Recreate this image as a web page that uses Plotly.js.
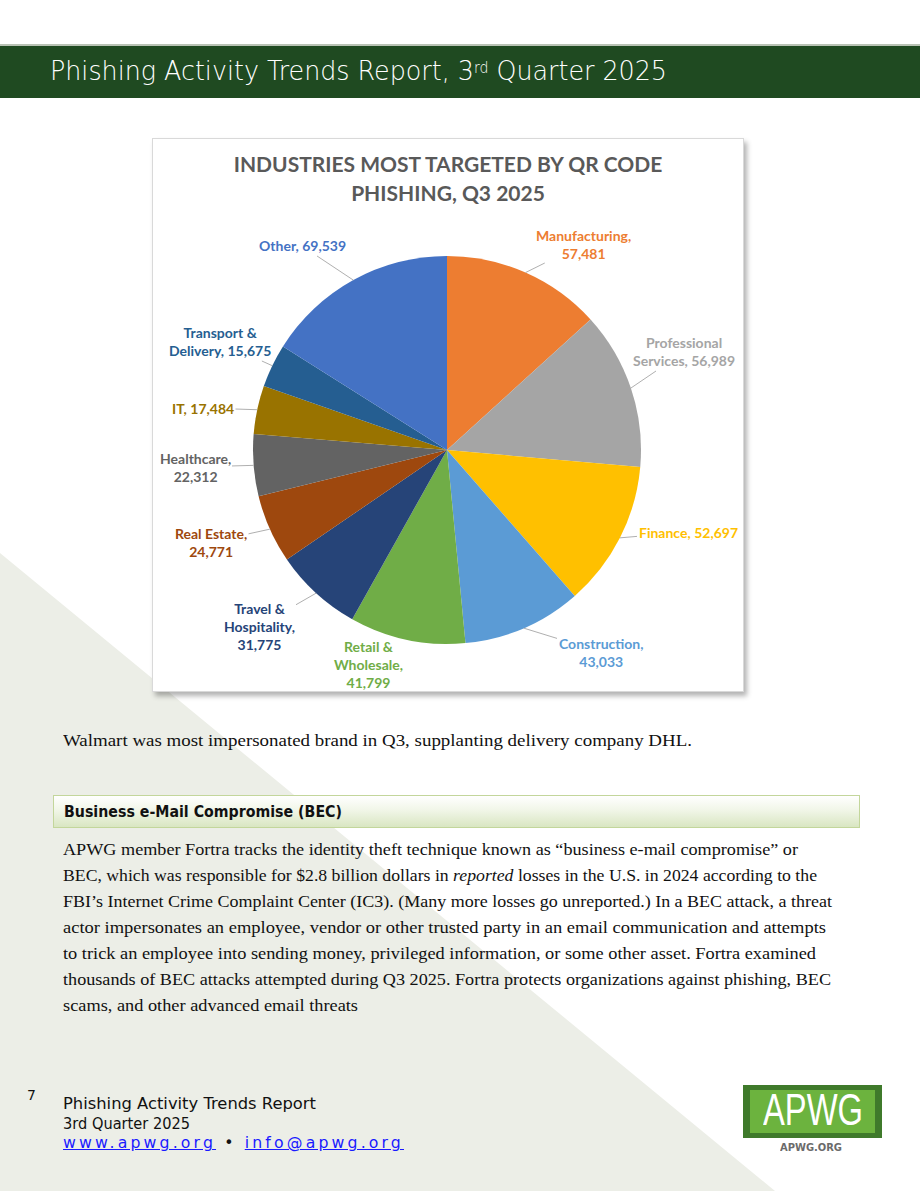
<!DOCTYPE html>
<html>
<head>
<meta charset="utf-8">
<script src="https://cdn.plot.ly/plotly-3.0.1.min.js"></script>
<style>
html,body{margin:0;padding:0;}
body{width:920px;height:1191px;position:relative;overflow:hidden;background:#ffffff;font-family:'DejaVu Sans',sans-serif;}
.abs{position:absolute;white-space:nowrap;}
.fit{display:inline-block;transform-origin:0 50%;}
#hdr{position:absolute;left:0;top:44px;width:920px;height:52px;background:#1f4a21;border-top:2px solid #b9c3b5;}
#hdrText{left:50px;top:54px;height:34px;line-height:34px;color:#ffffff;font-family:'DejaVu Sans',sans-serif;font-size:27px;font-weight:300;}
#hdrText sup{font-size:15px;vertical-align:top;position:relative;top:-3px;}
#box{position:absolute;left:152px;top:138px;width:590px;height:552px;border:1px solid #d9d9d9;background:#fff;box-shadow:3px 4px 5px rgba(0,0,0,0.30);}
#chart{position:absolute;left:0;top:0;width:590px;height:552px;}
.serif{font-family:'Liberation Serif',serif;font-size:17px;color:#111;line-height:26px;height:26px;}
#secBox{position:absolute;left:53px;top:795px;width:805px;height:31px;border:1px solid #c3d69b;background:linear-gradient(to bottom,#ffffff 0%,#f1f6e8 45%,#d9e6c2 100%);}
#secText{left:64px;top:801px;height:22px;line-height:22px;font-family:'DejaVu Sans',sans-serif;font-weight:bold;font-size:15px;color:#111;}
.foot{font-family:'DejaVu Sans',sans-serif;font-size:15px;color:#111;line-height:20px;height:20px;}
.foot a{color:#1a1aff;text-decoration:underline;}
#logoOuter{position:absolute;left:743px;top:1085px;width:139px;height:53px;background:#3f7a2b;}
#logoInner{position:absolute;left:7px;top:5px;width:125px;height:43px;background:#6cb33e;}
#logoText{position:absolute;left:763px;top:1089px;height:42px;line-height:42px;font-family:'Liberation Sans',sans-serif;font-size:44px;color:#fff;}
#logoUrl{position:absolute;left:780px;top:1141px;height:13px;line-height:13px;font-family:'DejaVu Sans',sans-serif;font-weight:bold;font-size:10px;color:#6b6b6b;}
</style>
</head>
<body>
<svg width="920" height="1191" style="position:absolute;left:0;top:0">
  <polygon points="0,553 775,1191 0,1191" fill="#eceee7"/>
</svg>

<div id="hdr"></div>
<div id="hdrText" class="abs"><span class="fit" data-w="617">Phishing Activity Trends Report, 3<sup>rd</sup> Quarter 2025</span></div>

<div id="box"><div id="chart"></div></div>

<div class="abs serif" style="left:63px;top:728px;"><span class="fit" data-w="629">Walmart was most impersonated brand in Q3, supplanting delivery company DHL.</span></div>

<div id="secBox"></div>
<div id="secText" class="abs"><span class="fit" data-w="278">Business e-Mail Compromise (BEC)</span></div>

<div class="abs serif" style="left:63px;top:837px;"><span class="fit" data-w="735">APWG member Fortra tracks the identity theft technique known as “business e-mail compromise” or</span></div>
<div class="abs serif" style="left:63px;top:863px;"><span class="fit" data-w="754">BEC, which was responsible for $2.8 billion dollars in <i>reported</i> losses in the U.S. in 2024 according to the</span></div>
<div class="abs serif" style="left:63px;top:889px;"><span class="fit" data-w="769">FBI’s Internet Crime Complaint Center (IC3). (Many more losses go unreported.) In a BEC attack, a threat</span></div>
<div class="abs serif" style="left:63px;top:915px;"><span class="fit" data-w="763">actor impersonates an employee, vendor or other trusted party in an email communication and attempts</span></div>
<div class="abs serif" style="left:63px;top:941px;"><span class="fit" data-w="753">to trick an employee into sending money, privileged information, or some other asset. Fortra examined</span></div>
<div class="abs serif" style="left:63px;top:967px;"><span class="fit" data-w="768">thousands of BEC attacks attempted during Q3 2025. Fortra protects organizations against phishing, BEC</span></div>
<div class="abs serif" style="left:63px;top:993px;"><span class="fit" data-w="295">scams, and other advanced email threats</span></div>

<div class="abs foot" style="left:27px;top:1085px;font-size:14px;">7</div>
<div class="abs foot" style="left:63px;top:1094px;"><span class="fit" data-w="253">Phishing Activity Trends Report</span></div>
<div class="abs foot" style="left:63px;top:1114px;"><span class="fit" data-w="127">3rd Quarter 2025</span></div>
<div class="abs foot" style="left:63px;top:1133px;"><span class="fit" data-w="341" style="letter-spacing:3px;"><a>www.apwg.org</a> • <a>info@apwg.org</a></span></div>

<div id="logoOuter"><div id="logoInner"></div></div>
<div id="logoText"><span class="fit" data-w="100">APWG</span></div>
<div id="logoUrl"><span class="fit" data-w="62">APWG.ORG</span></div>

<script>
// ---- data ----
const categories = ["Manufacturing","Professional Services","Finance","Construction","Retail & Wholesale","Travel & Hospitality","Real Estate","Healthcare","IT","Transport & Delivery","Other"];
const values = [57481,56989,52697,43033,41799,31775,24771,22312,17484,15675,69539];
const labelText = ["Manufacturing,<br>57,481","Professional<br>Services, 56,989","Finance, 52,697","Construction,<br>43,033","Retail &<br>Wholesale,<br>41,799","Travel &<br>Hospitality,<br>31,775","Real Estate,<br>24,771","Healthcare,<br>22,312","IT, 17,484","Transport &<br>Delivery, 15,675","Other, 69,539"];
const chartTitle = "INDUSTRIES MOST TARGETED BY QR CODE<br>PHISHING, Q3 2025";

// ---- style / layout ----
const colors = ["#ED7D31","#A5A5A5","#FFC000","#5B9BD5","#70AD47","#264478","#9E480E","#636363","#997300","#255E91","#4472C4"];
const W = 590, H = 552;           // chart div size
const CX = 294, CY = 311, R = 194; // pie centre & radius (px in div)
const OX = 153, OY = 139;          // div origin on page
// label centres on page (px)
const labelPos = [[583,244],[684,352],[688,532],[601,652],[368,664],[259,626],[211,542],[195,467],[203,408],[220,342],[302,246]];
const showLine = [true,true,true,true,false,true,true,true,true,true,true];

const total = values.reduce((a,b)=>a+b,0);
let cum = 0;
const annotations = values.map((v,i)=>{
  const mid = (cum + v/2)/total * 2*Math.PI; cum += v;
  const px = CX + R*Math.sin(mid), py = CY - R*Math.cos(mid);
  const lx = labelPos[i][0]-OX, ly = labelPos[i][1]-OY;
  return {
    x: px/W, y: 1-py/H, xref:'paper', yref:'paper',
    ax: lx-px, ay: ly-py, axref:'pixel', ayref:'pixel',
    showarrow: true, arrowhead: 0, arrowwidth: 0.9, standoff: 0,
    arrowcolor: showLine[i] ? '#a6a6a6' : 'rgba(0,0,0,0)',
    text: '<b>'+labelText[i]+'</b>', align:'center',
    font:{family:'Lato, sans-serif', size:14, color:colors[i]}
  };
});

const trace = {
  type:'pie', values: values, labels: categories, sort:false, direction:'clockwise', rotation:0,
  marker:{colors: colors, line:{width:0}}, textinfo:'none', hoverinfo:'label+value',
  domain:{x:[(CX-R)/W,(CX+R)/W], y:[(H-CY-R)/H,(H-CY+R)/H]}, showlegend:false
};
const layout = {
  width: W, height: H, margin:{l:0,r:0,t:0,b:0},
  paper_bgcolor:'#ffffff',
  title:{text: '<b>'+chartTitle+'</b>', x:0.5, xanchor:'center', y:1-33/H, yanchor:'top', yref:'container',
         font:{family:'Lato, sans-serif', size:21, color:'#595959'}},
  annotations: annotations, showlegend:false
};
Plotly.newPlot('chart',[trace],layout,{staticPlot:true,displayModeBar:false}).then(gd=>{
  // widen title line spacing to match the reference
  const lines = gd.querySelectorAll('.gtitle tspan.line');
  lines.forEach((t,i)=>{ if(i>0) t.setAttribute('dy','29px'); });
});

// ---- fit text widths ----
function fitAll(){
  document.querySelectorAll('.fit').forEach(el=>{
    el.style.transform='';
    const w = el.getBoundingClientRect().width;
    const t = parseFloat(el.dataset.w);
    if (w>0) el.style.transform='scaleX('+(t/w)+')';
  });
}
fitAll();
if (document.fonts && document.fonts.ready) document.fonts.ready.then(fitAll);
</script>
</body>
</html>
